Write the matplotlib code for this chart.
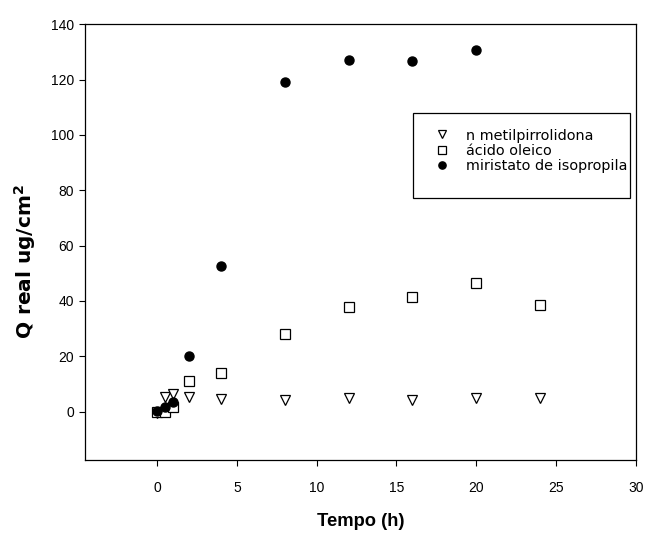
import matplotlib
matplotlib.use("Agg")
import matplotlib.pyplot as plt
from matplotlib.patches import Rectangle

plt.rcParams['font.family'] = ['Liberation Sans', 'DejaVu Sans']

# Data
t_nmp = [0, 0.5, 1, 2, 4, 8, 12, 16, 20, 24]
q_nmp = [-0.5, 5.2, 6.4, 5.2, 4.6, 4.2, 4.9, 4.2, 4.9, 4.9]

t_ole = [0, 0.5, 1, 2, 4, 8, 12, 16, 20, 24]
q_ole = [0.0, -0.2, 1.8, 11.1, 13.9, 28.0, 37.8, 41.6, 46.6, 38.4]

t_mir = [0, 0.5, 1, 2, 4, 8, 12, 16, 20]
q_mir = [0.3, 1.7, 3.3, 20.2, 52.8, 119.0, 127.2, 126.6, 130.6]

labels = ["n metilpirrolidona", "ácido oleico", "miristato de isopropila"]
xticks = [0, 5, 10, 15, 20, 25, 30]
yticks = [0, 20, 40, 60, 80, 100, 120, 140]

fig = plt.figure(figsize=(6.46, 5.34), dpi=100)
ax = fig.add_axes([0.132, 0.138, 0.852, 0.8165])

ax.plot(t_nmp, q_nmp, linestyle='none', marker='v', markersize=7,
        markerfacecolor='white', markeredgecolor='black', markeredgewidth=0.9,
        label=labels[0])
ax.plot(t_ole, q_ole, linestyle='none', marker='s', markersize=6.5,
        markerfacecolor='white', markeredgecolor='black', markeredgewidth=0.9,
        label=labels[1])
ax.plot(t_mir, q_mir, linestyle='none', marker='o', markersize=6.5,
        markerfacecolor='black', markeredgecolor='black',
        label=labels[2])

ax.set_xlim(-4.5, 30)
ax.set_ylim(-17.6, 140)
ax.set_xticks(xticks)
ax.set_yticks(yticks)
ax.tick_params(axis='both', direction='out', labelsize=10, width=0.8)
ax.tick_params(axis='x', length=4, pad=11)
ax.tick_params(axis='y', length=4, pad=4)
for s in ax.spines.values():
    s.set_linewidth(0.9)

ax.set_xlabel("Tempo (h)", fontsize=13.2, fontweight='bold', labelpad=13)
ax.set_ylabel("Q real ug/cm$^\\mathbf{2}$", fontsize=14.5, fontweight='bold',
              family=['DejaVu Sans'])
ax.yaxis.set_label_coords(-0.086, 0.456)

leg = ax.legend(loc='upper left', bbox_to_anchor=(0.6345, 0.761),
                prop={'family': ['DejaVu Sans'], 'size': 10.4},
                frameon=False, handlelength=1.0, handletextpad=1.15,
                borderpad=0, labelspacing=0.09, markerscale=0.8,
                borderaxespad=0)
ax.add_patch(Rectangle((0.596, 0.601), 0.3937, 0.1963, transform=ax.transAxes,
                       fill=False, edgecolor='black', linewidth=0.9, zorder=5))

fig.savefig("out.png", dpi=100)
